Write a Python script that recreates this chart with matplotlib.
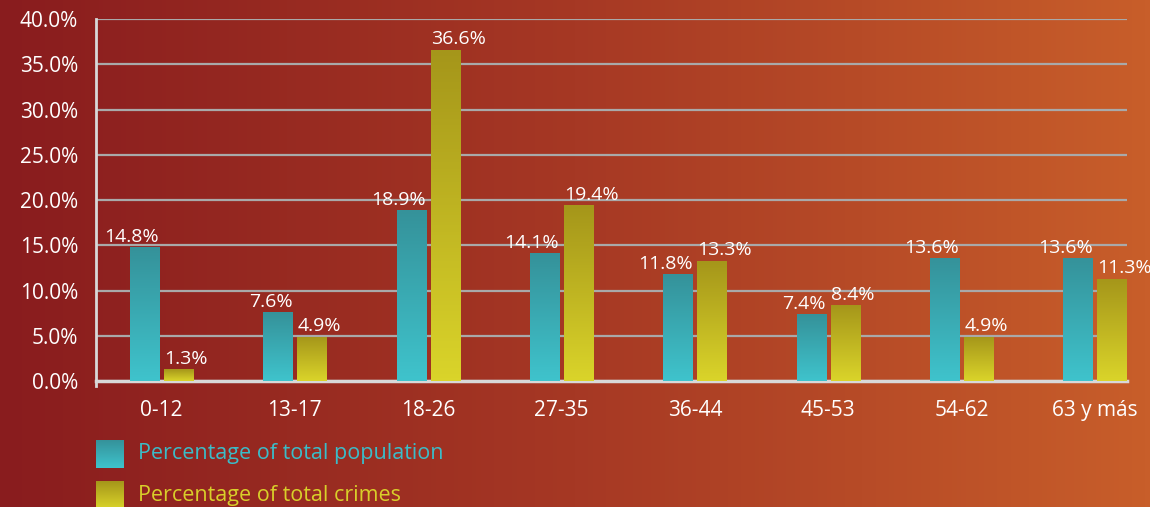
import numpy as np
import matplotlib.pyplot as plt
from matplotlib.colors import LinearSegmentedColormap

plt.rcParams['font.family'] = ['Open Sans', 'DejaVu Sans']

groups = ['0-12', '13-17', '18-26', '27-35', '36-44', '45-53', '54-62', '63 y más']
population = [14.8, 7.6, 18.9, 14.1, 11.8, 7.4, 13.6, 13.6]
crimes = [1.3, 4.9, 36.6, 19.4, 13.3, 8.4, 4.9, 11.3]
yticks = [0, 5, 10, 15, 20, 25, 30, 35, 40]
legend_labels = ['Percentage of total population', 'Percentage of total crimes']

teal_cmap = LinearSegmentedColormap.from_list('teal', ['#3FC3CC', '#35929A'])
yellow_cmap = LinearSegmentedColormap.from_list('yel', ['#DAD42A', '#A5961A'])
bg_cmap = LinearSegmentedColormap.from_list('bg', ['#891C1E', '#A63824', '#C85E2A'])

fig = plt.figure(figsize=(11.5, 5.07), dpi=100)

# background gradient
bg = fig.add_axes([0, 0, 1, 1], zorder=-1)
bg.imshow(np.linspace(0, 1, 256).reshape(1, -1), cmap=bg_cmap, aspect='auto',
          extent=[0, 1, 0, 1])
bg.axis('off')

ax = fig.add_axes([0.0835, 0.2485, 0.8965, 0.714])
ax.set_facecolor('none')

grad = np.linspace(0, 1, 100).reshape(-1, 1)
x = np.arange(len(groups))
w = 0.2175
off = 0.1275


def grad_bars(xs, vals, cmap):
    bars = ax.bar(xs, vals, w, color='none', zorder=3)
    for b in bars:
        bx, by = b.get_x(), b.get_y()
        im = ax.imshow(grad, cmap=cmap, aspect='auto', origin='lower',
                       extent=[bx, bx + b.get_width(), by, by + b.get_height()],
                       zorder=3)
        im.set_clip_path(b)
    return bars


grad_bars(x - off, population, teal_cmap)
grad_bars(x + off, crimes, yellow_cmap)

# teal labels end at the bar's right edge, yellow ones start at its left edge
for xi, v in zip(x, population):
    ax.annotate(f'{v:.1f}%', (xi - off + w / 2, v), xytext=(0, 1), textcoords='offset points',
                ha='right', va='bottom', color='white', fontsize=14)
for xi, v in zip(x, crimes):
    ax.annotate(f'{v:.1f}%', (xi + off - w / 2, v), xytext=(0, 1), textcoords='offset points',
                ha='left', va='bottom', color='white', fontsize=14)

ax.set_xlim(-0.491, 7.24)
ax.set_ylim(0, 40)
ax.set_yticks(yticks)
ax.set_yticklabels([f'{t:.1f}%' for t in yticks])
ax.set_xticks(x)
ax.set_xticklabels(groups)
ax.tick_params(colors='white', labelsize=15, length=0)
ax.tick_params(axis='x', pad=14)
ax.tick_params(axis='y', pad=13)
ax.yaxis.grid(True, color='#A9A9A9', linewidth=1.6, zorder=1)
ax.set_axisbelow(True)
for s in ['top', 'right']:
    ax.spines[s].set_visible(False)
ax.spines['left'].set_color('#D8D8D8')
ax.spines['left'].set_linewidth(2)
ax.spines['left'].set_bounds(-0.6, 40)
ax.spines['bottom'].set_color('#D8D8D8')
ax.spines['bottom'].set_linewidth(2.5)

# legend
for i, (lab, cmap, col) in enumerate(zip(legend_labels, [teal_cmap, yellow_cmap],
                                          ['#3BBCC8', '#D8CF2A'])):
    y0 = 1 - (440 + i * 41 + 28) / 507
    bg.imshow(grad, cmap=cmap, aspect='auto', origin='lower',
              extent=[96 / 1150, 124 / 1150, y0, y0 + 28 / 507], zorder=2)
    fig.text(138 / 1150, y0 + 14 / 507, lab, color=col, fontsize=15.5, va='center')
bg.set_xlim(0, 1)
bg.set_ylim(0, 1)

fig.savefig('out.png', dpi=100)
